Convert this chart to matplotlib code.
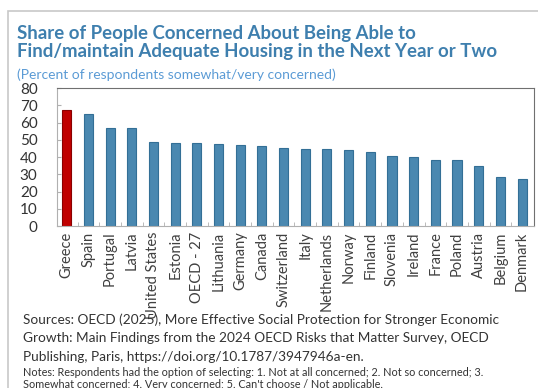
import numpy as np
import matplotlib
matplotlib.use("Agg")
import matplotlib.pyplot as plt
from matplotlib.patches import Rectangle

plt.rcParams['font.family'] = ['Lato', 'DejaVu Sans']

countries = ['Greece', 'Spain', 'Portugal', 'Latvia', 'United States', 'Estonia',
             'OECD - 27', 'Lithuania', 'Germany', 'Canada', 'Switzerland', 'Italy',
             'Netherlands', 'Norway', 'Finland', 'Slovenia', 'Ireland', 'France',
             'Poland', 'Austria', 'Belgium', 'Denmark']
values = [67.4, 64.9, 57.1, 57.1, 48.9, 48.0, 48.0, 47.6, 47.0, 46.4, 45.4, 44.9,
          44.7, 44.1, 43.1, 40.6, 39.8, 38.4, 38.1, 34.6, 28.2, 27.4]
yticks = [0, 10, 20, 30, 40, 50, 60, 70, 80]

fig = plt.figure(figsize=(5.38, 3.88), dpi=100)
fig.patches.append(Rectangle((8/538, -0.1), 1.2, 1 - 11/388 + 0.1, transform=fig.transFigure,
                             fill=False, edgecolor='#c8c8c8', linewidth=1.2))

ax = fig.add_axes([57/538, 1 - 226/388, (534 - 57)/538, (226 - 88)/388])
x = np.arange(len(countries))
face = ['#c00000' if c == 'Greece' else '#4a88b0' for c in countries]
edge = ['#8a0000' if c == 'Greece' else '#336f96' for c in countries]
ax.bar(x, values, width=0.42, color=face, edgecolor=edge, linewidth=0.8, zorder=2)

ax.set_xlim(-0.45, len(countries) - 0.45)
ax.set_ylim(0, 80)
ax.set_yticks(yticks)
ax.set_xticks(x)
ax.set_xticklabels(countries, rotation=90, fontsize=10.5, color='#404040')
ax.tick_params(axis='x', length=0, pad=4)
ax.set_xticks(x[:-1] + 0.5, minor=True)
ax.tick_params(axis='x', which='minor', direction='in', length=3, color='#b0b0b0')
ax.tick_params(axis='y', direction='in', length=3, color='#b0b0b0', labelsize=11,
               labelcolor='#333333', pad=14)
for s in ['left', 'bottom']:
    ax.spines[s].set_color('#b0b0b0')
for s in ['top', 'right']:
    ax.spines[s].set_color('#707070')

fig.text(17/538, 1 - 38.5/388, 'Share of People Concerned About Being Able to',
         fontsize=13.4, fontweight='bold', color='#3e7fae', va='baseline')
fig.text(17/538, 1 - 57/388, 'Find/maintain Adequate Housing in the Next Year or Two',
         fontsize=13.4, fontweight='bold', color='#3e7fae', va='baseline')
fig.text(17/538, 1 - 79/388, '(Percent of respondents somewhat/very concerned)',
         fontsize=10, color='#5b9bd5', va='baseline')

src = ['Sources: OECD (2025), More Effective Social Protection for Stronger Economic',
       'Growth: Main Findings from the 2024 OECD Risks that Matter Survey, OECD',
       'Publishing, Paris, https://doi.org/10.1787/3947946a-en.']
for i, line in enumerate(src):
    fig.text(23/538, 1 - (324 + 18.5*i)/388, line, fontsize=9.8, color='#333333', va='baseline')
notes = ['Notes: Respondents had the option of selecting: 1. Not at all concerned; 2. Not so concerned; 3.',
         'Somewhat concerned; 4. Very concerned; 5. Can\'t choose / Not applicable.']
for i, line in enumerate(notes):
    fig.text(23/538, 1 - (375.5 + 13*i)/388, line, fontsize=7.8, color='#333333', va='baseline')

fig.savefig('out.png', dpi=100)
